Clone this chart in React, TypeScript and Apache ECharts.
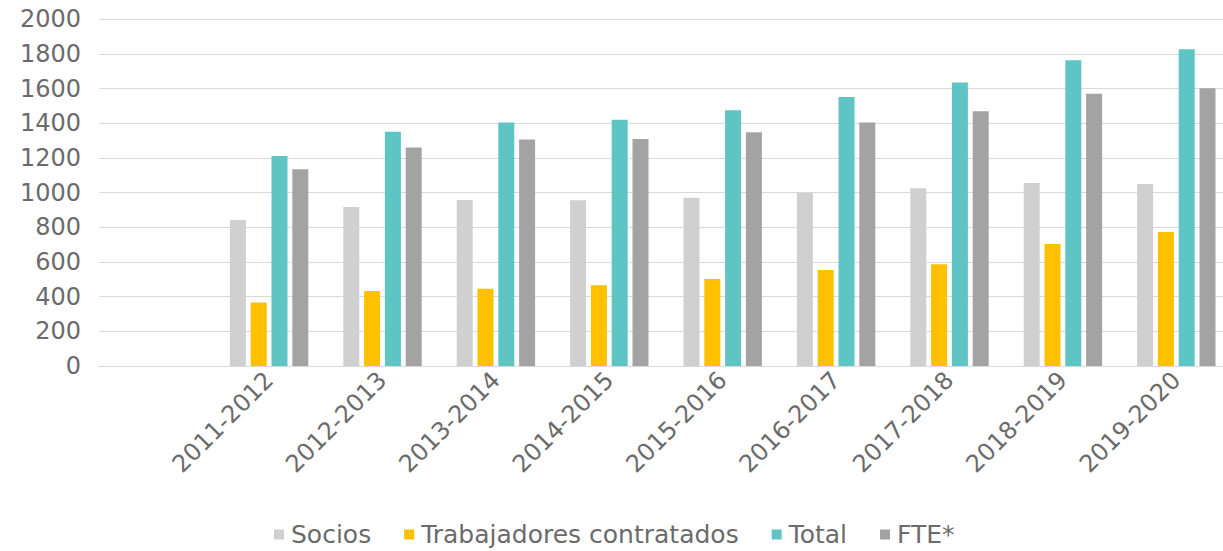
import React, { useEffect, useRef } from "react";
import * as echarts from "echarts";

const categories = ["", "2011-2012", "2012-2013", "2013-2014", "2014-2015", "2015-2016", "2016-2017", "2017-2018", "2018-2019", "2019-2020"];
const socios = [null, 842, 917, 958, 956, 971, 998, 1025, 1056, 1050];
const trabajadores = [null, 367, 433, 446, 466, 502, 554, 587, 704, 773];
const total = [null, 1212, 1352, 1404, 1421, 1475, 1552, 1635, 1764, 1827];
const fte = [null, 1135, 1260, 1306, 1310, 1348, 1404, 1469, 1571, 1602];
const yTicks = { min: 0, max: 2000, interval: 200 };

const FONT = "'DejaVu Sans', sans-serif";
const TEXT = "#6b6b6b";

export default function App() {
  const ref = useRef<HTMLDivElement>(null);
  useEffect(() => {
    if (!ref.current) return;
    const chart = echarts.init(ref.current, null, { renderer: "svg" });
    const mk = (name: string, data: (number | null)[], color: string) => ({
      name,
      type: "bar",
      data,
      barWidth: 16,
      barGap: "30%",
      itemStyle: { color },
    });
    chart.setOption({
      animation: false,
      textStyle: { fontFamily: FONT },
      grid: { left: 99, right: 7, top: 19.3, bottom: 185, containLabel: false },
      legend: {
        left: 274,
        top: 522,
        padding: 0,
        itemWidth: 10,
        itemHeight: 10,
        itemGap: 33,
        icon: "rect",
        textStyle: { fontSize: 25, color: TEXT, fontFamily: FONT, padding: [0, 0, 0, 2] },
        data: ["Socios", "Trabajadores contratados", "Total", "FTE*"],
      },
      xAxis: {
        type: "category",
        data: categories,
        axisTick: { show: false },
        axisLine: { lineStyle: { color: "#d9d9d9", width: 1 } },
        axisLabel: { rotate: 45, fontSize: 24, color: TEXT, margin: 10, interval: 0, fontFamily: FONT },
      },
      yAxis: {
        type: "value",
        min: yTicks.min,
        max: yTicks.max,
        interval: yTicks.interval,
        axisLine: { show: false },
        axisTick: { show: false },
        splitLine: { lineStyle: { color: "#d9d9d9", width: 1 } },
        axisLabel: { fontSize: 24, color: TEXT, margin: 18, fontFamily: FONT, formatter: (v: number) => String(v) },
      },
      series: [
        mk("Socios", socios, "#d0d0d0"),
        mk("Trabajadores contratados", trabajadores, "#ffc000"),
        mk("Total", total, "#5ec4c4"),
        mk("FTE*", fte, "#a3a3a3"),
      ],
    });
    return () => chart.dispose();
  }, []);
  return (
    <div style={{ position: "fixed", left: 0, top: 0, width: 1223, height: 551, overflow: "hidden", background: "#fff" }}>
      <div ref={ref} style={{ width: 1240, height: 551 }} />
    </div>
  );
}
